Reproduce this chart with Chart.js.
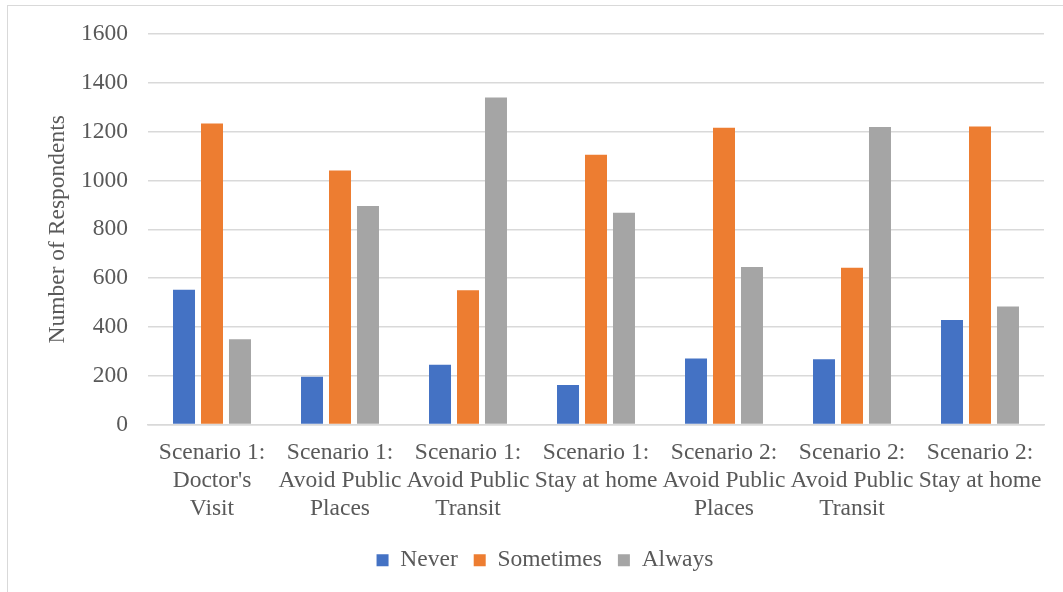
<!DOCTYPE html>
<html>
<head>
<meta charset="utf-8">
<script src="https://cdn.jsdelivr.net/npm/chart.js@4.4.0/dist/chart.umd.min.js"></script>
<style>
  html, body { margin: 0; padding: 0; background: #fff; }
  #wrap { position: relative; width: 1063px; height: 592px; }
  #frame { position: absolute; left: 7px; top: 5px; width: 1070px; height: 600px; border: 1px solid #d9d9d9; box-sizing: border-box; }
  canvas { position: absolute; left: 0; top: 0; }
</style>
</head>
<body>
<div id="wrap">
  <div id="frame"></div>
  <canvas id="chart" width="1063" height="592"></canvas>
</div>
<script>
// categories and series
const categories = [
    ['Scenario 1:', "Doctor's", 'Visit'],
    ['Scenario 1:', 'Avoid Public', 'Places'],
    ['Scenario 1:', 'Avoid Public', 'Transit'],
    ['Scenario 1:', 'Stay at home'],
    ['Scenario 2:', 'Avoid Public', 'Places'],
    ['Scenario 2:', 'Avoid Public', 'Transit'],
    ['Scenario 2:', 'Stay at home']
];
const never = [552, 196, 245, 162, 270, 267, 428];
const sometimes = [1234, 1041, 550, 1106, 1216, 642, 1221];
const always = [349, 895, 1340, 868, 646, 1219, 484];

const fontFamily = '"Liberation Serif", "Times New Roman", serif';
const textColor = '#595959';
Chart.defaults.font.family = fontFamily;

const ctx = document.getElementById('chart').getContext('2d');
const chart = new Chart(ctx, {
    type: 'bar',
    data: {
        labels: categories,
        datasets: [
            { label: 'Never', data: never, backgroundColor: '#4472C4' },
            { label: 'Sometimes', data: sometimes, backgroundColor: '#ED7D31' },
            { label: 'Always', data: always, backgroundColor: '#A5A5A5' }
        ]
    },
    options: {
        responsive: false,
        animation: false,
        categoryPercentage: 0.656,
        barPercentage: 0.786,
        layout: { padding: { left: 46, right: 19, top: 34, bottom: 10 } },
        plugins: {
            legend: {
                position: 'bottom',
                labels: {
                    boxWidth: 12,
                    boxHeight: 12,
                    padding: 16,
                    color: textColor,
                    font: { family: fontFamily, size: 23.5 }
                }
            },
            tooltip: { enabled: false }
        },
        scales: {
            x: {
                grid: { display: false },
                border: { color: '#d9d9d9', width: 1.5 },
                ticks: {
                    color: textColor,
                    padding: 6,
                    maxRotation: 0,
                    autoSkip: false,
                    font: { family: fontFamily, size: 23.5, lineHeight: 1.2 }
                },
                afterFit: scale => { scale.height = 108; }
            },
            y: {
                min: 0,
                max: 1600,
                ticks: {
                    stepSize: 200,
                    color: textColor,
                    padding: 20,
                    font: { family: fontFamily, size: 23.5 },
                    callback: value => String(value)
                },
                grid: { color: '#d9d9d9', lineWidth: 1.5, drawTicks: false },
                border: { display: false },
                title: {
                    display: true,
                    text: 'Number of Respondents',
                    color: textColor,
                    padding: { top: -2, bottom: 0 },
                    font: { family: fontFamily, size: 23.5 }
                },
                afterFit: scale => { scale.width = 102; }
            }
        }
    }
});
</script>
</body>
</html>
